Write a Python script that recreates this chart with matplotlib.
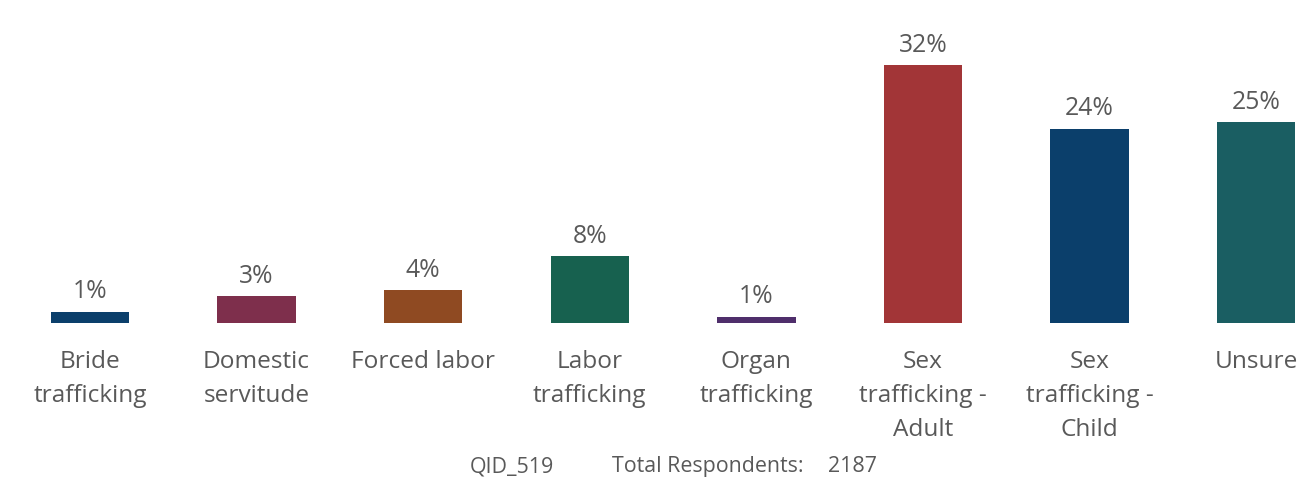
import numpy as np
import matplotlib
matplotlib.use('Agg')
import matplotlib.pyplot as plt
from matplotlib.transforms import blended_transform_factory

# data
categories = ['Bride\ntrafficking', 'Domestic\nservitude', 'Forced labor', 'Labor\ntrafficking',
              'Organ\ntrafficking', 'Sex\ntrafficking -\nAdult', 'Sex\ntrafficking -\nChild', 'Unsure']
values = [1.4, 3.3, 4.1, 8.3, 0.8, 32.0, 24.1, 24.9]
colors = ['#0b3f6b', '#7e2f4c', '#8f4a22', '#17614f', '#4f2e6b', '#a23537', '#0b3f6b', '#1a5e62']
qid = 'QID_519'
respondents = 2187

plt.rcParams['font.family'] = ['Open Sans', 'DejaVu Sans']
grey = '#595959'

fig = plt.figure(figsize=(13.15, 4.81), dpi=100)
W, H = 1315., 481.
# axes spans baseline (y=323px) to y=24px
ax = fig.add_axes([0, (H - 324) / H, 1, 300 / H])
xpos = np.arange(len(categories))
ax.bar(xpos, values, width=0.47, color=colors)

step = 166.6
ax.set_xlim(-90 / step, (W - 90) / step)
ax.set_ylim(0, 300 / 8.06)
for sp in ax.spines.values():
    sp.set_visible(False)
ax.set_yticks([])
ax.set_xticks([])

# value labels
for x, v in zip(xpos, values):
    ax.annotate('%d%%' % round(v), (x, v), xytext=(0, 6), textcoords='offset points',
                ha='center', va='bottom', fontsize=17.8, color=grey)

# category labels
trans = blended_transform_factory(ax.transData, fig.transFigure)
for x, lab in zip(xpos, categories):
    fig.text(x, 1 - 350 / H, lab, transform=trans, ha='center', va='top',
             fontsize=17.6, color=grey, linespacing=1.56)

# footer
fig.text(470 / W, 1 - 467 / H, qid, ha='left', va='center', fontsize=15.4, color=grey)
fig.text(612 / W, 1 - 467 / H, 'Total Respondents:', ha='left', va='center', fontsize=15.4, color=grey)
fig.text(877 / W, 1 - 467 / H, str(respondents), ha='right', va='center', fontsize=15.4, color=grey)

fig.savefig('out.png', dpi=100)
